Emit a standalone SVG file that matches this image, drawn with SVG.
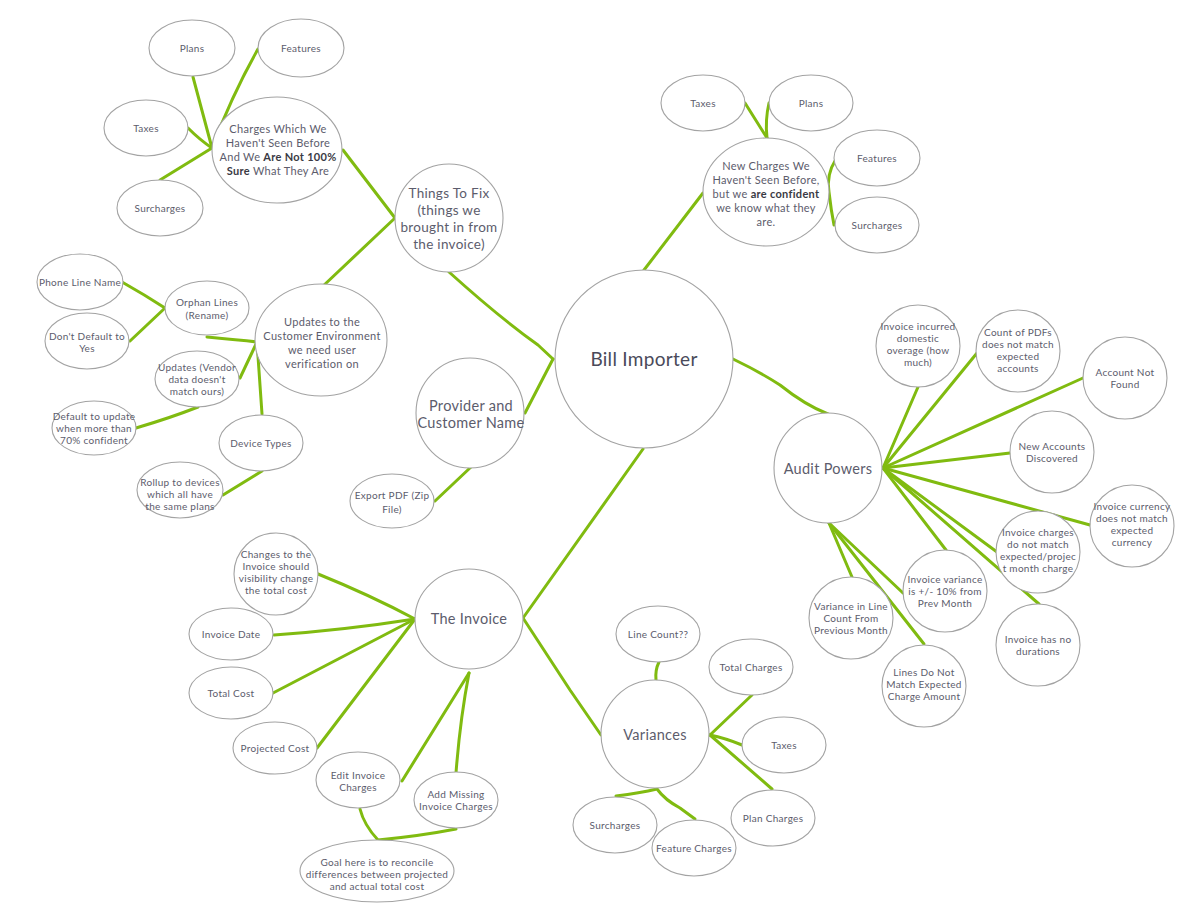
<svg xmlns="http://www.w3.org/2000/svg" width="1188" height="910" viewBox="0 0 1188 910">
<style>
.bg{fill:#fff}
.n ellipse{fill:#fff;stroke:#a3a3a3;stroke-width:1.1}
.n text{font-family:Lato,"Open Sans","Noto Sans",sans-serif;fill:#5c5c6c;text-anchor:middle;font-size:10px;letter-spacing:0.3px}
.n text.m{font-size:11px}
.n text.l{font-size:13.5px}
.n text.xl{font-size:14.5px}
.n text.h{font-size:19px;fill:#4a4a5a}
.b{font-weight:bold;fill:#3a3a44}
.c path{fill:none;stroke:#80bb10;stroke-width:3;stroke-linecap:round;stroke-linejoin:round}
</style>
<rect class="bg" width="1188" height="910"/>
<g id="connectors" class="c">
<path d="M193,77 L212,148"/>
<path d="M258,49 Q232,95 212,148"/>
<path d="M188,128 Q200,140 212,148"/>
<path d="M160,180 L212,148"/>
<path d="M343,150 L395,218"/>
<path d="M395,218 L322,287"/>
<path d="M449,272 Q500,318 538,345 L553,359"/>
<path d="M122,282 Q145,295 165,308"/>
<path d="M130,341 L165,308"/>
<path d="M207,337 Q240,340 257,342"/>
<path d="M240,378 L257,342"/>
<path d="M262,414 L257,342"/>
<path d="M136,428 Q170,418 198,407"/>
<path d="M223,495 L262,471"/>
<path d="M525,413 L553,359"/>
<path d="M435,501 L471,467"/>
<path d="M644,270 L703,193"/>
<path d="M745,103 L767,138"/>
<path d="M769,103 Q765,120 767,138"/>
<path d="M836,159 Q826,175 829,192 Q831,210 834,225"/>
<path d="M733,359 Q760,372 780,385 Q805,405 828,414"/>
<path d="M883,468 L918,387"/>
<path d="M883,468 L977,353"/>
<path d="M883,468 L1083,378"/>
<path d="M883,468 L1010,453"/>
<path d="M883,468 L1090,525"/>
<path d="M883,468 L997,552"/>
<path d="M883,468 L946,550"/>
<path d="M883,468 L1039,604"/>
<path d="M829,523 L852,577"/>
<path d="M829,523 L903,593"/>
<path d="M829,523 L924,644"/>
<path d="M643,449 L523,618"/>
<path d="M318,574 Q370,595 415,619"/>
<path d="M274,635 Q345,630 415,619"/>
<path d="M273,693 L415,619"/>
<path d="M317,748 L415,619"/>
<path d="M402,781 L469,673"/>
<path d="M456,773 Q460,720 469,673"/>
<path d="M360,809 Q364,825 378,840 Q420,836 456,829"/>
<path d="M523,618 L570,690 L601,735"/>
<path d="M659,662 Q655,670 656,680"/>
<path d="M752,695 L710,735"/>
<path d="M742,745 Q725,738 710,735"/>
<path d="M772,789 L710,735"/>
<path d="M616,796 Q640,793 657,789 Q665,800 680,808 L695,819"/>
</g>

<g id="bill-importer" class="n"><ellipse cx="644" cy="359" rx="89" ry="89"/><text class="h" x="644" y="366">Bill Importer</text></g>

<g id="things-to-fix" class="n"><ellipse cx="449" cy="218" rx="54" ry="54"/>
<text class="l" x="449" y="198">Things To Fix</text>
<text class="l" x="449" y="215">(things we</text>
<text class="l" x="449" y="232">brought in from</text>
<text class="l" x="449" y="249">the invoice)</text></g>

<g id="charges-not-sure" class="n"><ellipse cx="277" cy="150" rx="65" ry="53"/>
<text class="m" x="278" y="133">Charges Which We</text>
<text class="m" x="278" y="147">Haven't Seen Before</text>
<text class="m" x="278" y="161">And We <tspan class="b">Are Not 100%</tspan></text>
<text class="m" x="278" y="175"><tspan class="b">Sure</tspan> What They Are</text></g>

<g id="plans-1" class="n"><ellipse cx="192" cy="48" rx="43" ry="28"/><text x="192" y="52">Plans</text></g>
<g id="features-1" class="n"><ellipse cx="301" cy="48" rx="43" ry="29"/><text x="301" y="52">Features</text></g>
<g id="taxes-1" class="n"><ellipse cx="146" cy="128" rx="42" ry="28"/><text x="146" y="132">Taxes</text></g>
<g id="surcharges-1" class="n"><ellipse cx="160" cy="208" rx="43" ry="28"/><text x="160" y="212">Surcharges</text></g>

<g id="updates-customer" class="n"><ellipse cx="321" cy="340" rx="66" ry="56"/>
<text class="m" x="322" y="326">Updates to the</text>
<text class="m" x="322" y="340">Customer Environment</text>
<text class="m" x="322" y="354">we need user</text>
<text class="m" x="322" y="368">verification on</text></g>

<g id="orphan-lines" class="n"><ellipse cx="207" cy="308" rx="42" ry="27"/><text x="207" y="306">Orphan Lines</text><text x="207" y="319">(Rename)</text></g>
<g id="phone-line-name" class="n"><ellipse cx="80" cy="282" rx="43" ry="28"/><text x="80" y="286">Phone Line Name</text></g>
<g id="dont-default" class="n"><ellipse cx="87" cy="341" rx="42" ry="28"/><text x="87" y="340">Don't Default to</text><text x="87" y="352">Yes</text></g>
<g id="updates-vendor" class="n"><ellipse cx="197" cy="379" rx="42" ry="28"/><text x="197" y="371">Updates (Vendor</text><text x="197" y="383">data doesn't</text><text x="197" y="395">match ours)</text></g>
<g id="device-types" class="n"><ellipse cx="261" cy="443" rx="42" ry="28"/><text x="261" y="447">Device Types</text></g>
<g id="default-update" class="n"><ellipse cx="94" cy="428" rx="42" ry="27"/><text x="94" y="420">Default to update</text><text x="94" y="432">when more than</text><text x="94" y="444">70% confident</text></g>
<g id="rollup" class="n"><ellipse cx="180" cy="490" rx="43" ry="28"/><text x="180" y="486">Rollup to devices</text><text x="180" y="498">which all have</text><text x="180" y="510">the same plans</text></g>

<g id="provider" class="n"><ellipse cx="470" cy="413" rx="54" ry="55"/><text class="xl" x="471" y="411">Provider and</text><text class="xl" x="471" y="428">Customer Name</text></g>
<g id="export-pdf" class="n"><ellipse cx="392" cy="501" rx="42" ry="27"/><text x="392" y="499">Export PDF (Zip</text><text x="392" y="513">File)</text></g>

<g id="new-charges" class="n"><ellipse cx="766" cy="192" rx="63" ry="54"/>
<text class="m" x="766" y="170">New Charges We</text>
<text class="m" x="766" y="184">Haven't Seen Before,</text>
<text class="m" x="766" y="198">but we <tspan class="b">are confident</tspan></text>
<text class="m" x="766" y="212">we know what they</text>
<text class="m" x="766" y="226">are.</text></g>
<g id="taxes-2" class="n"><ellipse cx="703" cy="103" rx="42" ry="28"/><text x="703" y="107">Taxes</text></g>
<g id="plans-2" class="n"><ellipse cx="811" cy="103" rx="42" ry="28"/><text x="811" y="107">Plans</text></g>
<g id="features-2" class="n"><ellipse cx="877" cy="158" rx="43" ry="28"/><text x="877" y="162">Features</text></g>
<g id="surcharges-2" class="n"><ellipse cx="877" cy="225" rx="42" ry="28"/><text x="877" y="229">Surcharges</text></g>

<g id="audit-powers" class="n"><ellipse cx="828" cy="468" rx="54" ry="55"/><text class="xl" x="828" y="474">Audit Powers</text></g>
<g id="domestic-overage" class="n"><ellipse cx="918" cy="346" rx="42" ry="41"/><text x="918" y="330">Invoice incurred</text><text x="918" y="342">domestic</text><text x="918" y="354">overage (how</text><text x="918" y="366">much)</text></g>
<g id="count-pdfs" class="n"><ellipse cx="1018" cy="351" rx="42" ry="41"/><text x="1018" y="336">Count of PDFs</text><text x="1018" y="348">does not match</text><text x="1018" y="360">expected</text><text x="1018" y="372">accounts</text></g>
<g id="account-not-found" class="n"><ellipse cx="1125" cy="378" rx="42" ry="41"/><text x="1125" y="376">Account Not</text><text x="1125" y="388">Found</text></g>
<g id="new-accounts" class="n"><ellipse cx="1052" cy="452" rx="42" ry="41"/><text x="1052" y="450">New Accounts</text><text x="1052" y="462">Discovered</text></g>
<g id="invoice-currency" class="n"><ellipse cx="1132" cy="526" rx="42" ry="41"/><text x="1132" y="510">Invoice currency</text><text x="1132" y="522">does not match</text><text x="1132" y="534">expected</text><text x="1132" y="546">currency</text></g>
<g id="invoice-charges" class="n"><ellipse cx="1038" cy="552" rx="42" ry="41"/><text x="1038" y="536">Invoice charges</text><text x="1038" y="548">do not match</text><text x="1038" y="560">expected/projec</text><text x="1038" y="572">t month charge</text></g>
<g id="invoice-variance" class="n"><ellipse cx="945" cy="591" rx="42" ry="41"/><text x="945" y="583">Invoice variance</text><text x="945" y="595">is +/- 10% from</text><text x="945" y="607">Prev Month</text></g>
<g id="no-durations" class="n"><ellipse cx="1038" cy="645" rx="42" ry="41"/><text x="1038" y="643">Invoice has no</text><text x="1038" y="655">durations</text></g>
<g id="variance-line-count" class="n"><ellipse cx="851" cy="618" rx="42" ry="41"/><text x="851" y="610">Variance in Line</text><text x="851" y="622">Count From</text><text x="851" y="634">Previous Month</text></g>
<g id="lines-not-match" class="n"><ellipse cx="924" cy="686" rx="42" ry="41"/><text x="924" y="676">Lines Do Not</text><text x="924" y="688">Match Expected</text><text x="924" y="700">Charge Amount</text></g>

<g id="the-invoice" class="n"><ellipse cx="469" cy="619" rx="54" ry="50"/><text class="xl" x="469" y="624">The Invoice</text></g>
<g id="changes-invoice" class="n"><ellipse cx="276" cy="574" rx="42" ry="41"/><text x="276" y="558">Changes to the</text><text x="276" y="570">Invoice should</text><text x="276" y="582">visibility change</text><text x="276" y="594">the total cost</text></g>
<g id="invoice-date" class="n"><ellipse cx="231" cy="634" rx="42" ry="26"/><text x="231" y="638">Invoice Date</text></g>
<g id="total-cost" class="n"><ellipse cx="231" cy="693" rx="42" ry="26"/><text x="231" y="697">Total Cost</text></g>
<g id="projected-cost" class="n"><ellipse cx="275" cy="748" rx="42" ry="26"/><text x="275" y="752">Projected Cost</text></g>
<g id="edit-invoice" class="n"><ellipse cx="358" cy="780" rx="42" ry="28"/><text x="358" y="779">Edit Invoice</text><text x="358" y="791">Charges</text></g>
<g id="add-missing" class="n"><ellipse cx="456" cy="800" rx="42" ry="28"/><text x="456" y="798">Add Missing</text><text x="456" y="810">Invoice Charges</text></g>
<g id="goal" class="n"><ellipse cx="377" cy="871" rx="77" ry="31"/><text x="377" y="866">Goal here is to reconcile</text><text x="377" y="878">differences between projected</text><text x="377" y="890">and actual total cost</text></g>

<g id="variances" class="n"><ellipse cx="655" cy="734" rx="54" ry="54"/><text class="xl" x="655" y="740">Variances</text></g>
<g id="line-count" class="n"><ellipse cx="658" cy="634" rx="42" ry="28"/><text x="658" y="638">Line Count??</text></g>
<g id="total-charges" class="n"><ellipse cx="751" cy="667" rx="42" ry="28"/><text x="751" y="671">Total Charges</text></g>
<g id="taxes-3" class="n"><ellipse cx="784" cy="745" rx="42" ry="28"/><text x="784" y="749">Taxes</text></g>
<g id="plan-charges" class="n"><ellipse cx="773" cy="818" rx="42" ry="28"/><text x="773" y="822">Plan Charges</text></g>
<g id="surcharges-3" class="n"><ellipse cx="615" cy="825" rx="42" ry="28"/><text x="615" y="829">Surcharges</text></g>
<g id="feature-charges" class="n"><ellipse cx="694" cy="848" rx="42" ry="28"/><text x="694" y="852">Feature Charges</text></g>
</svg>
